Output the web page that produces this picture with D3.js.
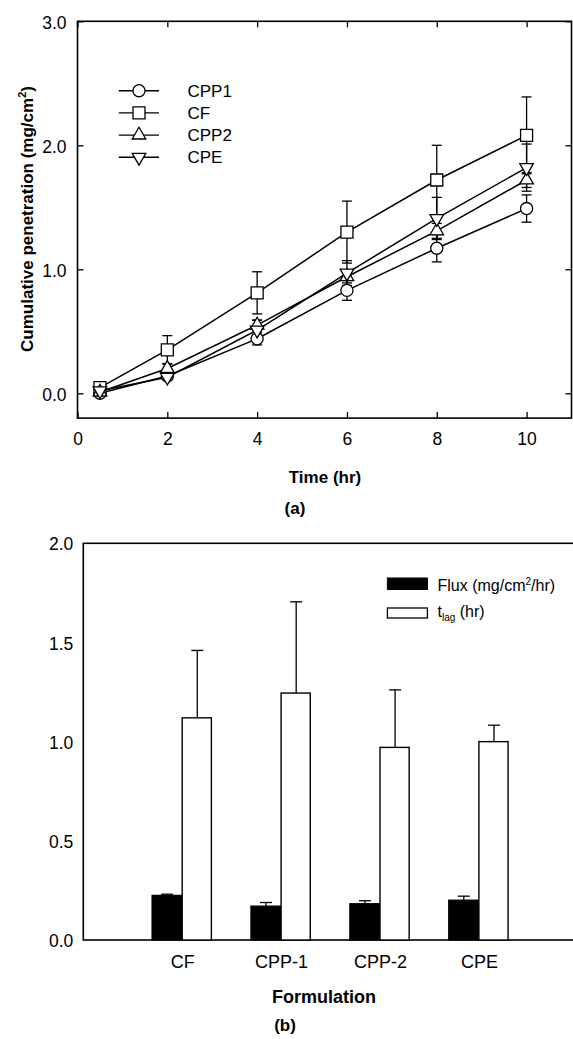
<!DOCTYPE html>
<html>
<head>
<meta charset="utf-8">
<script src="https://cdn.jsdelivr.net/npm/d3@7"></script>
<style>
  body { margin: 0; background: #fff; }
  svg { display: block; }
  text { font-family: "Liberation Sans", Arial, sans-serif; fill: #000; }
</style>
</head>
<body>
<div id="chart"></div>
<script>
'use strict'

// ---------- data: panel (a) ----------
const times = [0.5, 2, 4, 6, 8, 10];
const seriesNames = ["CPP1", "CF", "CPP2", "CPE"];
const cpp1Mean = [0.00, 0.14, 0.44, 0.83, 1.17, 1.49];
const cpp1Err  = [0.01, 0.02, 0.05, 0.08, 0.11, 0.11];
const cfMean   = [0.045, 0.35, 0.81, 1.30, 1.72, 2.08];
const cfErr    = [0.01, 0.115, 0.17, 0.25, 0.28, 0.31];
const cpp2Mean = [0.01, 0.20, 0.55, 0.94, 1.31, 1.72];
const cpp2Err  = [0.01, 0.04, 0.04, 0.05, 0.06, 0.06];
const cpeMean  = [0.02, 0.13, 0.51, 0.97, 1.41, 1.82];
const cpeErr   = [0.01, 0.02, 0.08, 0.10, 0.17, 0.19];
const xTicksA = [0, 2, 4, 6, 8, 10];
const yTicksA = [0.0, 1.0, 2.0, 3.0];

// ---------- data: panel (b) ----------
const formulations = ["CF", "CPP-1", "CPP-2", "CPE"];
const fluxMean = [0.225, 0.171, 0.183, 0.201];
const fluxErr  = [0.006, 0.018, 0.015, 0.020];
const tlagMean = [1.12, 1.245, 0.971, 1.00];
const tlagErr  = [0.34, 0.46, 0.29, 0.083];
const yTicksB = [0.0, 0.5, 1.0, 1.5, 2.0];

const W = 573, H = 1039;
const svg = d3.select("#chart").append("svg")
    .attr("width", W).attr("height", H)
    .attr("viewBox", `0 0 ${W} ${H}`);

const seriesMeans = [cpp1Mean, cfMean, cpp2Mean, cpeMean];
const seriesErrs = [cpp1Err, cfErr, cpp2Err, cpeErr];
const symbolTypes = [d3.symbolCircle, d3.symbolSquare, d3.symbolTriangle, d3.symbolTriangle];
const symbolSizes = [115, 144, 80, 80];
const symbolRot = [0, 0, 0, 180];

const series = seriesNames.map((name, i) => ({
    name: name,
    idx: i,
    points: times.map((t, j) => ({ t: t, v: seriesMeans[i][j], e: seriesErrs[i][j] }))
}));

////////////////////////////////////
//////////// panel (a) /////////////
////////////////////////////////////

const a = { left: 77.5, right: 571.5, top: 21.3, bottom: 418.1 };
const xA = d3.scaleLinear().domain([0, 11]).range([a.left, a.right]);
const yA = d3.scaleLinear().domain([-0.2, 3.0]).range([a.bottom, a.top]);

const gA = svg.append("g");

// box
gA.append("rect")
    .attr("x", a.left).attr("y", a.top)
    .attr("width", a.right - a.left).attr("height", a.bottom - a.top)
    .attr("fill", "none").attr("stroke", "#000").attr("stroke-width", 1.6);

// axes with inward ticks
function styleAxis(g, fontSize) {
    g.select(".domain").remove();
    g.selectAll(".tick line").attr("stroke", "#000").attr("stroke-width", 1.3);
    g.selectAll(".tick text")
        .style("font-family", '"Liberation Sans", Arial, sans-serif')
        .style("font-size", fontSize + "px")
        .attr("fill", "#000");
}

gA.append("g")
    .attr("transform", `translate(0,${a.bottom})`)
    .call(d3.axisBottom(xA).tickValues(xTicksA).tickSize(-6).tickPadding(14).tickFormat(d3.format("d")))
    .call(g => styleAxis(g, 17.5));
gA.append("g")
    .attr("transform", `translate(0,${a.top})`)
    .call(d3.axisTop(xA).tickValues(xTicksA).tickSize(-6).tickFormat(""))
    .call(g => styleAxis(g, 17));
gA.append("g")
    .attr("transform", `translate(${a.left},0)`)
    .call(d3.axisLeft(yA).tickValues(yTicksA).tickSize(-6).tickPadding(11).tickFormat(d3.format(".1f")))
    .call(g => styleAxis(g, 17.5))
    .call(g => g.selectAll(".tick text").attr("dy", "0.4em"));
gA.append("g")
    .attr("transform", `translate(${a.right},0)`)
    .call(d3.axisRight(yA).tickValues(yTicksA).tickSize(-6).tickFormat(""))
    .call(g => styleAxis(g, 17));

// lines
const line = d3.line().x(d => xA(d.t)).y(d => yA(d.v));
gA.selectAll(".series-line")
    .data(series)
    .join("path")
    .attr("class", "series-line")
    .attr("d", d => line(d.points))
    .attr("fill", "none").attr("stroke", "#000").attr("stroke-width", 1.5);

// error bars
const capA = 5;
const errG = gA.selectAll(".err")
    .data(series.flatMap(s => s.points))
    .join("g").attr("class", "err")
    .attr("stroke", "#000").attr("stroke-width", 1.3);
errG.append("line")
    .attr("x1", d => xA(d.t)).attr("x2", d => xA(d.t))
    .attr("y1", d => yA(d.v - d.e)).attr("y2", d => yA(d.v + d.e));
errG.append("line")
    .attr("x1", d => xA(d.t) - capA).attr("x2", d => xA(d.t) + capA)
    .attr("y1", d => yA(d.v + d.e)).attr("y2", d => yA(d.v + d.e));
errG.append("line")
    .attr("x1", d => xA(d.t) - capA).attr("x2", d => xA(d.t) + capA)
    .attr("y1", d => yA(d.v - d.e)).attr("y2", d => yA(d.v - d.e));

// markers
function symbolPath(i) {
    return d3.symbol().type(symbolTypes[i]).size(symbolSizes[i])();
}
series.forEach(s => {
    gA.selectAll(".mk" + s.idx)
        .data(s.points)
        .join("path")
        .attr("class", "mk" + s.idx)
        .attr("d", symbolPath(s.idx))
        .attr("transform", d => `translate(${xA(d.t)},${yA(d.v)}) rotate(${symbolRot[s.idx]})`)
        .attr("fill", "#fff").attr("stroke", "#000").attr("stroke-width", 1.3);
});

// legend
const legA = gA.append("g");
seriesNames.forEach((name, i) => {
    const ly = 90.7 + i * 22.2;
    legA.append("line")
        .attr("x1", 118.8).attr("x2", 159).attr("y1", ly).attr("y2", ly)
        .attr("stroke", "#000").attr("stroke-width", 1.4);
    legA.append("path")
        .attr("d", symbolPath(i))
        .attr("transform", `translate(139,${ly}) rotate(${symbolRot[i]})`)
        .attr("fill", "#fff").attr("stroke", "#000").attr("stroke-width", 1.3);
    legA.append("text")
        .attr("x", 187.5).attr("y", ly + 6)
        .style("font-size", "17px")
        .text(name);
});

// titles
const yTitle = gA.append("text")
    .attr("transform", "translate(33,219) rotate(-90)")
    .attr("text-anchor", "middle")
    .style("font-size", "17px").style("font-weight", "bold");
yTitle.append("tspan").text("Cumulative penetration (mg/cm");
yTitle.append("tspan").attr("dy", -7).style("font-size", "11px").text("2");
yTitle.append("tspan").attr("dy", 7).text(")");

gA.append("text")
    .attr("x", 325).attr("y", 483)
    .attr("text-anchor", "middle")
    .style("font-size", "17px").style("font-weight", "bold")
    .text("Time (hr)");
gA.append("text")
    .attr("x", 295).attr("y", 514)
    .attr("text-anchor", "middle")
    .style("font-size", "17px").style("font-weight", "bold")
    .text("(a)");

////////////////////////////////////
//////////// panel (b) /////////////
////////////////////////////////////

const b = { left: 83.3, right: 577.8, top: 543.3, bottom: 940 };
const xB = d3.scaleLinear().domain([0, 5]).range([b.left, b.right]);
const yB = d3.scaleLinear().domain([0, 2]).range([b.bottom, b.top]);
const barW = 0.305;

const gB = svg.append("g");

gB.append("rect")
    .attr("x", b.left).attr("y", b.top)
    .attr("width", b.right - b.left).attr("height", b.bottom - b.top)
    .attr("fill", "none").attr("stroke", "#000").attr("stroke-width", 1.6);

gB.append("g")
    .attr("transform", `translate(${b.left},0)`)
    .call(d3.axisLeft(yB).tickValues(yTicksB).tickSize(0).tickPadding(10).tickFormat(d3.format(".1f")))
    .call(g => styleAxis(g, 17.5))
    .call(g => g.selectAll(".tick text").attr("dy", "0.38em"));

const catIdx = formulations.map((f, i) => i + 1);
gB.append("g")
    .attr("transform", `translate(0,${b.bottom})`)
    .call(d3.axisBottom(xB).tickValues(catIdx).tickSize(0).tickPadding(15).tickFormat((d, i) => formulations[i]))
    .call(g => styleAxis(g, 18));

const barData = formulations.map((f, i) => ({
    i: i + 1, flux: fluxMean[i], fluxE: fluxErr[i], tlag: tlagMean[i], tlagE: tlagErr[i]
}));

// error bars first (upward only)
const capB = 6;
function upErr(sel, xc, top, val) {
    sel.append("line")
        .attr("x1", xc).attr("x2", xc).attr("y1", yB(val)).attr("y2", yB(top))
        .attr("stroke", "#000").attr("stroke-width", 1.3);
    sel.append("line")
        .attr("x1", xc - capB).attr("x2", xc + capB).attr("y1", yB(top)).attr("y2", yB(top))
        .attr("stroke", "#000").attr("stroke-width", 1.3);
}
barData.forEach(d => {
    upErr(gB, xB(d.i - barW / 2), d.flux + d.fluxE, d.flux);
    upErr(gB, xB(d.i + barW / 2), d.tlag + d.tlagE, d.tlag);
});

gB.selectAll(".flux")
    .data(barData)
    .join("rect").attr("class", "flux")
    .attr("x", d => xB(d.i - barW)).attr("width", xB(barW) - xB(0))
    .attr("y", d => yB(d.flux)).attr("height", d => yB(0) - yB(d.flux))
    .attr("fill", "#000").attr("stroke", "#000").attr("stroke-width", 1.2);

gB.selectAll(".tlag")
    .data(barData)
    .join("rect").attr("class", "tlag")
    .attr("x", d => xB(d.i)).attr("width", xB(barW) - xB(0) - 1)
    .attr("y", d => yB(d.tlag)).attr("height", d => yB(0) - yB(d.tlag))
    .attr("fill", "#fff").attr("stroke", "#000").attr("stroke-width", 1.4);

// legend
gB.append("rect")
    .attr("x", 387.4).attr("y", 578).attr("width", 40).attr("height", 11.5)
    .attr("fill", "#000").attr("stroke", "#000");
gB.append("rect")
    .attr("x", 387.4).attr("y", 608).attr("width", 40).attr("height", 10)
    .attr("fill", "#fff").attr("stroke", "#000").attr("stroke-width", 1.3);

const fluxLab = gB.append("text").attr("x", 437.5).attr("y", 590.5).style("font-size", "16px");
fluxLab.append("tspan").text("Flux (mg/cm");
fluxLab.append("tspan").attr("dy", -6).style("font-size", "10px").text("2");
fluxLab.append("tspan").attr("dy", 6).text("/hr)");

const tlagLab = gB.append("text").attr("x", 437.5).attr("y", 617).style("font-size", "16px");
tlagLab.append("tspan").text("t");
tlagLab.append("tspan").attr("dy", 4).style("font-size", "10px").text("lag");
tlagLab.append("tspan").attr("dy", -4).text(" (hr)");

gB.append("text")
    .attr("x", 324).attr("y", 1003)
    .attr("text-anchor", "middle")
    .style("font-size", "18px").style("font-weight", "bold")
    .text("Formulation");
gB.append("text")
    .attr("x", 285).attr("y", 1031)
    .attr("text-anchor", "middle")
    .style("font-size", "17px").style("font-weight", "bold")
    .text("(b)");
</script>
</body>
</html>
